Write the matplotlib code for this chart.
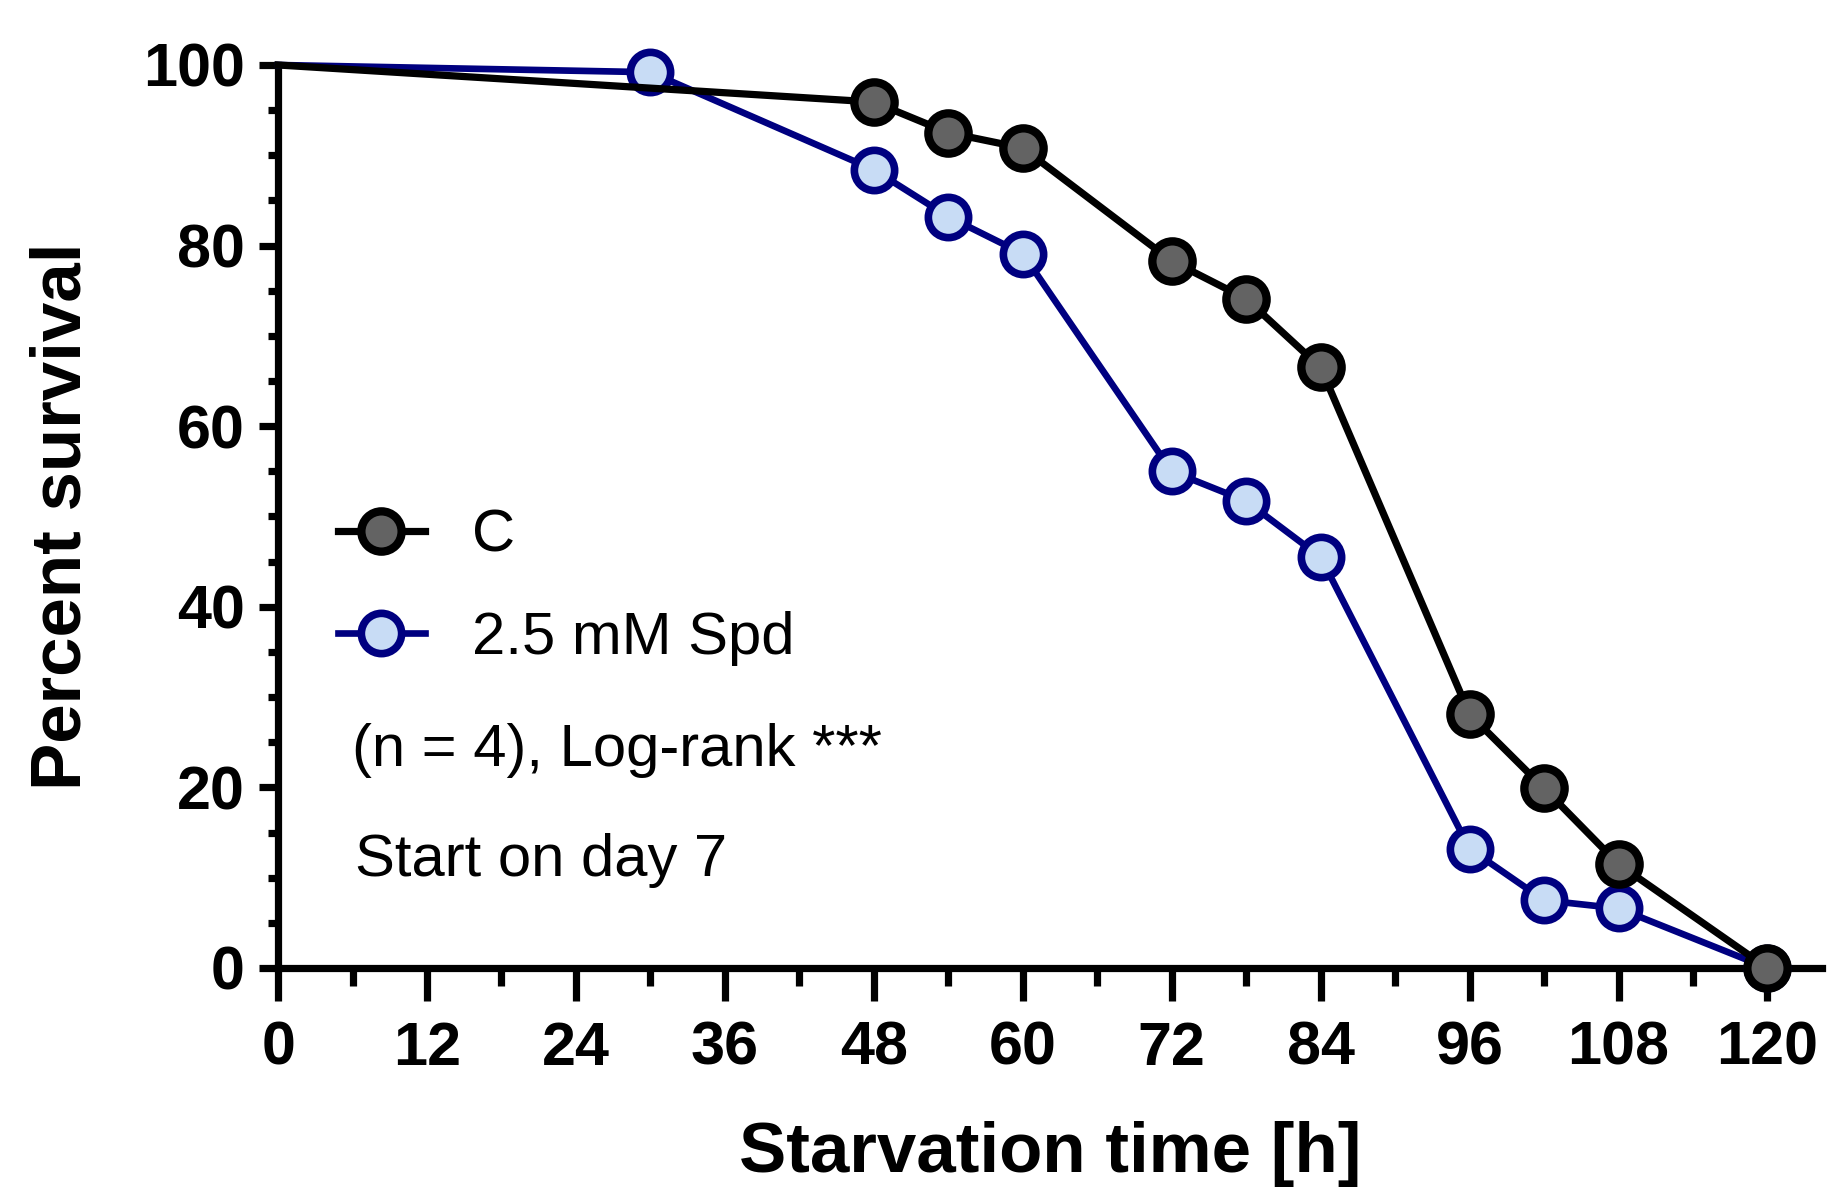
import matplotlib
matplotlib.use('Agg')
import matplotlib.pyplot as plt
from matplotlib.ticker import MultipleLocator

# survival data
hours_c = [0, 48, 54, 60, 72, 78, 84, 96, 102, 108, 120]
surv_c = [100, 95.9, 92.5, 90.8, 78.3, 74.1, 66.5, 28.1, 19.9, 11.5, 0]
hours_spd = [0, 30, 48, 54, 60, 72, 78, 84, 96, 102, 108, 120]
surv_spd = [100, 99.2, 88.4, 83.2, 79.1, 55.0, 51.7, 45.5, 13.2, 7.5, 6.6, 0]
labels = ['C', '2.5 mM Spd']
x_ticks = list(range(0, 121, 12))
y_ticks = [0, 20, 40, 60, 80, 100]
notes = ['(n = 4), Log-rank ***', 'Start on day 7']

plt.rcParams['font.family'] = ['Liberation Sans', 'DejaVu Sans']

fig = plt.figure(figsize=(18.27, 11.88), dpi=100)
ax = fig.add_axes([0.1522, 0.1852, 0.8451, 0.7601])

navy = '#000080'
spd_line, = ax.plot(hours_spd, surv_spd, color=navy, lw=4.8, marker='o', ms=29,
                    mfc='#c8dcf5', mec=navy, mew=5.5,
                    markevery=list(range(1, len(hours_spd))),
                    clip_on=False, zorder=3, label=labels[1])
c_line, = ax.plot(hours_c, surv_c, color='black', lw=5.2, marker='o', ms=29,
                  mfc='#636363', mec='black', mew=6,
                  markevery=list(range(1, len(hours_c))),
                  clip_on=False, zorder=4, label=labels[0])

ax.set_xlim(0, 124.4)
ax.set_ylim(0, 100)
ax.set_xticks(x_ticks)
ax.set_yticks(y_ticks)
ax.xaxis.set_minor_locator(MultipleLocator(6))
ax.yaxis.set_minor_locator(MultipleLocator(5))

for s in ['top', 'right']:
    ax.spines[s].set_visible(False)
for s in ['left', 'bottom']:
    ax.spines[s].set_linewidth(5.2)

ax.tick_params(axis='x', which='major', length=24, width=5.2, pad=14)
ax.tick_params(axis='x', which='minor', length=13, width=5.2)
ax.tick_params(axis='y', which='major', length=14, width=5.2, pad=10)
ax.tick_params(axis='y', which='minor', length=7, width=5.2)
for lab in ax.get_xticklabels() + ax.get_yticklabels():
    lab.set_fontsize(44)
    lab.set_fontweight('bold')

ax.set_xlabel('Starvation time [h]', fontsize=51, fontweight='bold')
ax.set_ylabel('Percent survival', fontsize=51, fontweight='bold')
ax.xaxis.set_label_coords(0.5, -0.17)
ax.yaxis.set_label_coords(-0.118, 0.5)

leg = ax.legend(handles=[c_line, spd_line], loc='upper left',
                bbox_to_anchor=(0.185, 0.572), bbox_transform=fig.transFigure,
                frameon=False, fontsize=43, handlelength=1.45,
                handletextpad=0.8, labelspacing=0.8, borderpad=0,
                borderaxespad=0, markerscale=1)

fig.text(352 / 1827, 1 - 751 / 1188, notes[0], fontsize=43, va='center')
fig.text(355 / 1827, 1 - 860 / 1188, notes[1], fontsize=43, va='center')

fig.savefig('out.png', dpi=100)
